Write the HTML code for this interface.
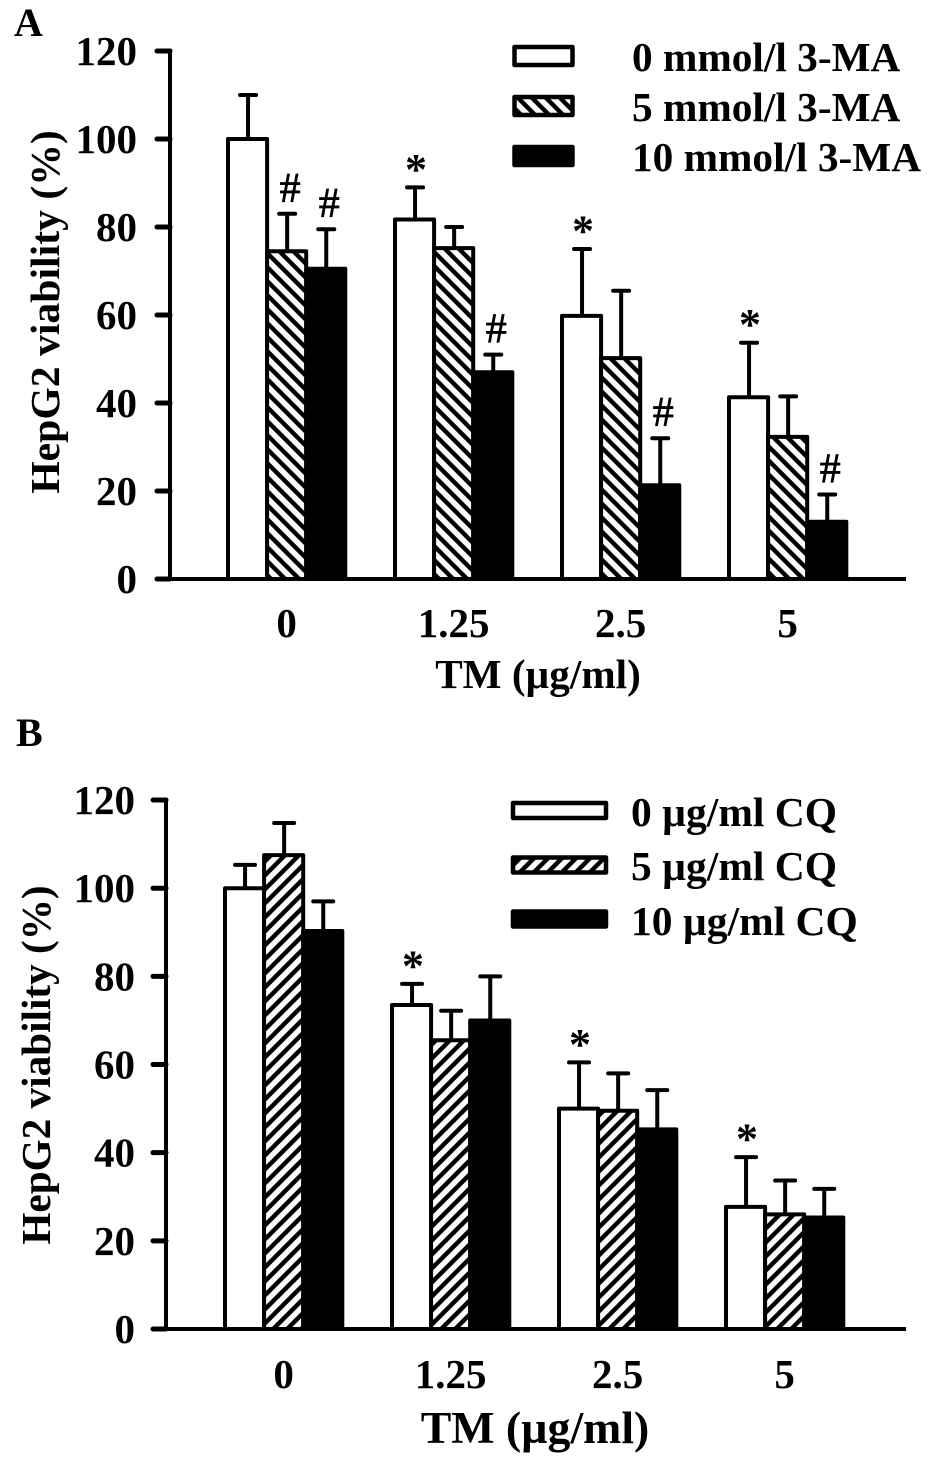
<!DOCTYPE html>
<html>
<head>
<meta charset="utf-8">
<title>HepG2 viability charts</title>
<style>
html,body{margin:0;padding:0;background:#fff;width:945px;height:1457px;overflow:hidden}
svg{display:block}
text{font-family:"Liberation Serif","DejaVu Serif",serif;font-weight:bold;fill:#000}
</style>
</head>
<body>
<svg id="figure" xmlns="http://www.w3.org/2000/svg" width="945" height="1457" viewBox="0 0 945 1457">
  <defs>
    <pattern id="hatch-back" patternUnits="userSpaceOnUse" width="9.9" height="9.9" patternTransform="translate(0 3) rotate(-45)">
      <rect width="9.9" height="9.9" fill="#fff"/>
      <rect width="4.4" height="9.9" fill="#000"/>
    </pattern>
    <pattern id="hatch-forward" patternUnits="userSpaceOnUse" width="9.9" height="9.9" patternTransform="translate(0 3) rotate(45)">
      <rect width="9.9" height="9.9" fill="#fff"/>
      <rect width="4.4" height="9.9" fill="#000"/>
    </pattern>
  </defs>
  <rect width="945" height="1457" fill="#fff"/>
  <g id="panel-a"></g>
  <g id="panel-b"></g>
</svg>
<script>
// Shared axis data
var categories = ["0", "1.25", "2.5", "5"];
var yTicks = [0, 20, 40, 60, 80, 100, 120];

// Panel A values (viability %) and error-bar tops
var a0Values = [100, 81.7, 59.8, 41.3];
var a5Values = [74.5, 75.2, 50.2, 32.3];
var a10Values = [70.5, 47, 21.3, 13];
var a0Tops = [110, 89, 75, 53.7];
var a5Tops = [83, 80, 65.5, 41.5];
var a10Tops = [79.5, 51, 32, 19.2];
var a0Marks = ["", "*", "*", "*"];
var a5Marks = ["#", "", "", ""];
var a10Marks = ["#", "#", "#", "#"];
var aLegend = ["0 mmol/l 3-MA", "5 mmol/l 3-MA", "10 mmol/l 3-MA"];

// Panel B values (viability %) and error-bar tops
var b0Values = [100, 73.5, 50, 27.7];
var b5Values = [107.5, 65.5, 49.5, 26];
var b10Values = [90.3, 70, 45.3, 25.3];
var b0Tops = [105.3, 78.3, 60.5, 39];
var b5Tops = [114.8, 72.2, 58, 33.7];
var b10Tops = [97, 80, 54.2, 31.8];
var b0Marks = ["", "*", "*", "*"];
var b5Marks = ["", "", "", ""];
var b10Marks = ["", "", "", ""];
var bLegend = ["0 \u00b5g/ml CQ", "5 \u00b5g/ml CQ", "10 \u00b5g/ml CQ"];

var NS = "http://www.w3.org/2000/svg";

function node(parent, tag, attrs, content) {
  var el = document.createElementNS(NS, tag);
  for (var k in attrs) { el.setAttribute(k, attrs[k]); }
  if (content !== undefined) { el.textContent = content; }
  parent.appendChild(el);
  return el;
}

function drawPanel(cfg) {
  var root = document.getElementById(cfg.id);
  function yScale(v) { return cfg.y0 - v * cfg.pxPerUnit; }
  function xScale(groupIndex, seriesIndex) {
    return cfg.firstBarX + groupIndex * cfg.groupStep + seriesIndex * cfg.barWidth;
  }
  function groupCenter(groupIndex) { return xScale(groupIndex, 1) + cfg.barWidth / 2; }

  var letter = node(root, "text", {x: cfg.letterX, y: cfg.letterY, "font-size": 40}, cfg.letter);
  
  

  // Bars, error bars and significance marks
  cfg.series.forEach(function (s, si) {
    s.values.forEach(function (v, gi) {
      var left = xScale(gi, si);
      var top = yScale(v);
      var bar = node(root, "rect", {
        x: left, y: top, width: cfg.barWidth, height: cfg.y0 - top,
        fill: s.fill, stroke: "#000", "stroke-width": 4, "stroke-linejoin": "round"
      });
      
      

      var cx = left + cfg.barWidth / 2 + 0.5;
      var errTop = yScale(s.tops[gi]);
      var stem = node(root, "line", {x1: cx, x2: cx, y1: top, y2: errTop, stroke: "#000", "stroke-width": 4});
      
      
      var cap = node(root, "line", {
        x1: cx - cfg.capHalf, x2: cx + cfg.capHalf, y1: errTop, y2: errTop,
        stroke: "#000", "stroke-width": 4, "stroke-linecap": "round"
      });
      
      

      var mark = s.marks[gi];
      if (mark) {
        var isHash = mark === "#";
        var markEl = node(root, "text", {
          x: cx + (isHash ? 3 : 1), y: errTop - (isHash ? 12 : 3.5),
          "text-anchor": "middle", "font-size": isHash ? 42 : 44,
          style: isHash ? "font-weight:normal;stroke:#000;stroke-width:0.7" : ""
        }, mark);
        
        
      }
    });
  });

  // Y axis
  var yAxis = node(root, "line", {x1: cfg.axisX, x2: cfg.axisX, y1: yScale(120) - 2, y2: cfg.y0 + 2, stroke: "#000", "stroke-width": 4});
  
  
  yTicks.forEach(function (t) {
    var ty = yScale(t);
    var tick = node(root, "line", {x1: cfg.axisX - 13, x2: cfg.axisX, y1: ty, y2: ty, stroke: "#000", "stroke-width": 5, "stroke-linecap": "round"});
    
    
    var label = node(root, "text", {x: cfg.tickLabelX, y: ty + 14, "text-anchor": "end", "font-size": 41}, String(t));
    
    
  });

  // X axis
  var xAxis = node(root, "line", {x1: cfg.axisX, x2: 906, y1: cfg.y0, y2: cfg.y0, stroke: "#000", "stroke-width": 4});
  
  
  categories.forEach(function (c, gi) {
    var xLabel = node(root, "text", {x: groupCenter(gi), y: cfg.xLabelY, "text-anchor": "middle", "font-size": 41}, c);
    
    
  });

  // Axis titles
  var xTitle = node(root, "text", {x: cfg.xTitleX, y: cfg.xTitleY, "font-size": cfg.xTitleSize, "text-anchor": "middle"}, "TM (\u00b5g/ml)");
  
  
  var yTitle = node(root, "text", {
    x: 0, y: 0, "font-size": cfg.yTitleSize, "text-anchor": "middle",
    transform: "translate(" + cfg.yTitleX + " " + cfg.yTitleY + ") rotate(-90)"
  }, "HepG2 viability (%)");
  
  

  // Legend
  cfg.series.forEach(function (s, si) {
    var sw = node(root, "rect", {
      x: cfg.legendX, y: cfg.legendSwatchY[si], width: cfg.legendW, height: cfg.legendH,
      fill: s.fill, stroke: "#000", "stroke-width": 4.5, "stroke-linejoin": "round"
    });
    
    
    var lt = node(root, "text", {x: cfg.legendTextX, y: cfg.legendTextY[si], "font-size": cfg.legendSize}, s.label);
    
    
  });
}

drawPanel({
  id: "panel-a", letter: "A", letterX: 14, letterY: 36,
  y0: 579, pxPerUnit: 4.4, axisX: 170, tickLabelX: 137,
  firstBarX: 228, barWidth: 39.1, groupStep: 167, capHalf: 8,
  xLabelY: 637, xTitleX: 538, xTitleY: 688, xTitleSize: 41.2,
  yTitleX: 59, yTitleY: 312, yTitleSize: 41.7,
  legendX: 514.5, legendW: 58, legendH: 18, legendSwatchY: [47, 97, 147],
  legendTextX: 632, legendTextY: [71, 121, 171], legendSize: 41.3,
  series: [
    {key: "0-mmol", label: aLegend[0], values: a0Values, tops: a0Tops, marks: a0Marks, fill: "#fff"},
    {key: "5-mmol", label: aLegend[1], values: a5Values, tops: a5Tops, marks: a5Marks, fill: "url(#hatch-back)"},
    {key: "10-mmol", label: aLegend[2], values: a10Values, tops: a10Tops, marks: a10Marks, fill: "#000"}
  ]
});

drawPanel({
  id: "panel-b", letter: "B", letterX: 16, letterY: 746,
  y0: 1329, pxPerUnit: 4.408, axisX: 166, tickLabelX: 135,
  firstBarX: 225, barWidth: 39.1, groupStep: 167, capHalf: 10,
  xLabelY: 1388, xTitleX: 535, xTitleY: 1443, xTitleSize: 45.8,
  yTitleX: 50, yTitleY: 1065, yTitleSize: 41.2,
  legendX: 513, legendW: 93, legendH: 15, legendSwatchY: [803, 857.5, 911.5],
  legendTextX: 631, legendTextY: [826, 880, 935], legendSize: 41.5,
  series: [
    {key: "0-ug", label: bLegend[0], values: b0Values, tops: b0Tops, marks: b0Marks, fill: "#fff"},
    {key: "5-ug", label: bLegend[1], values: b5Values, tops: b5Tops, marks: b5Marks, fill: "url(#hatch-forward)"},
    {key: "10-ug", label: bLegend[2], values: b10Values, tops: b10Tops, marks: b10Marks, fill: "#000"}
  ]
});
</script>
</body>
</html>
